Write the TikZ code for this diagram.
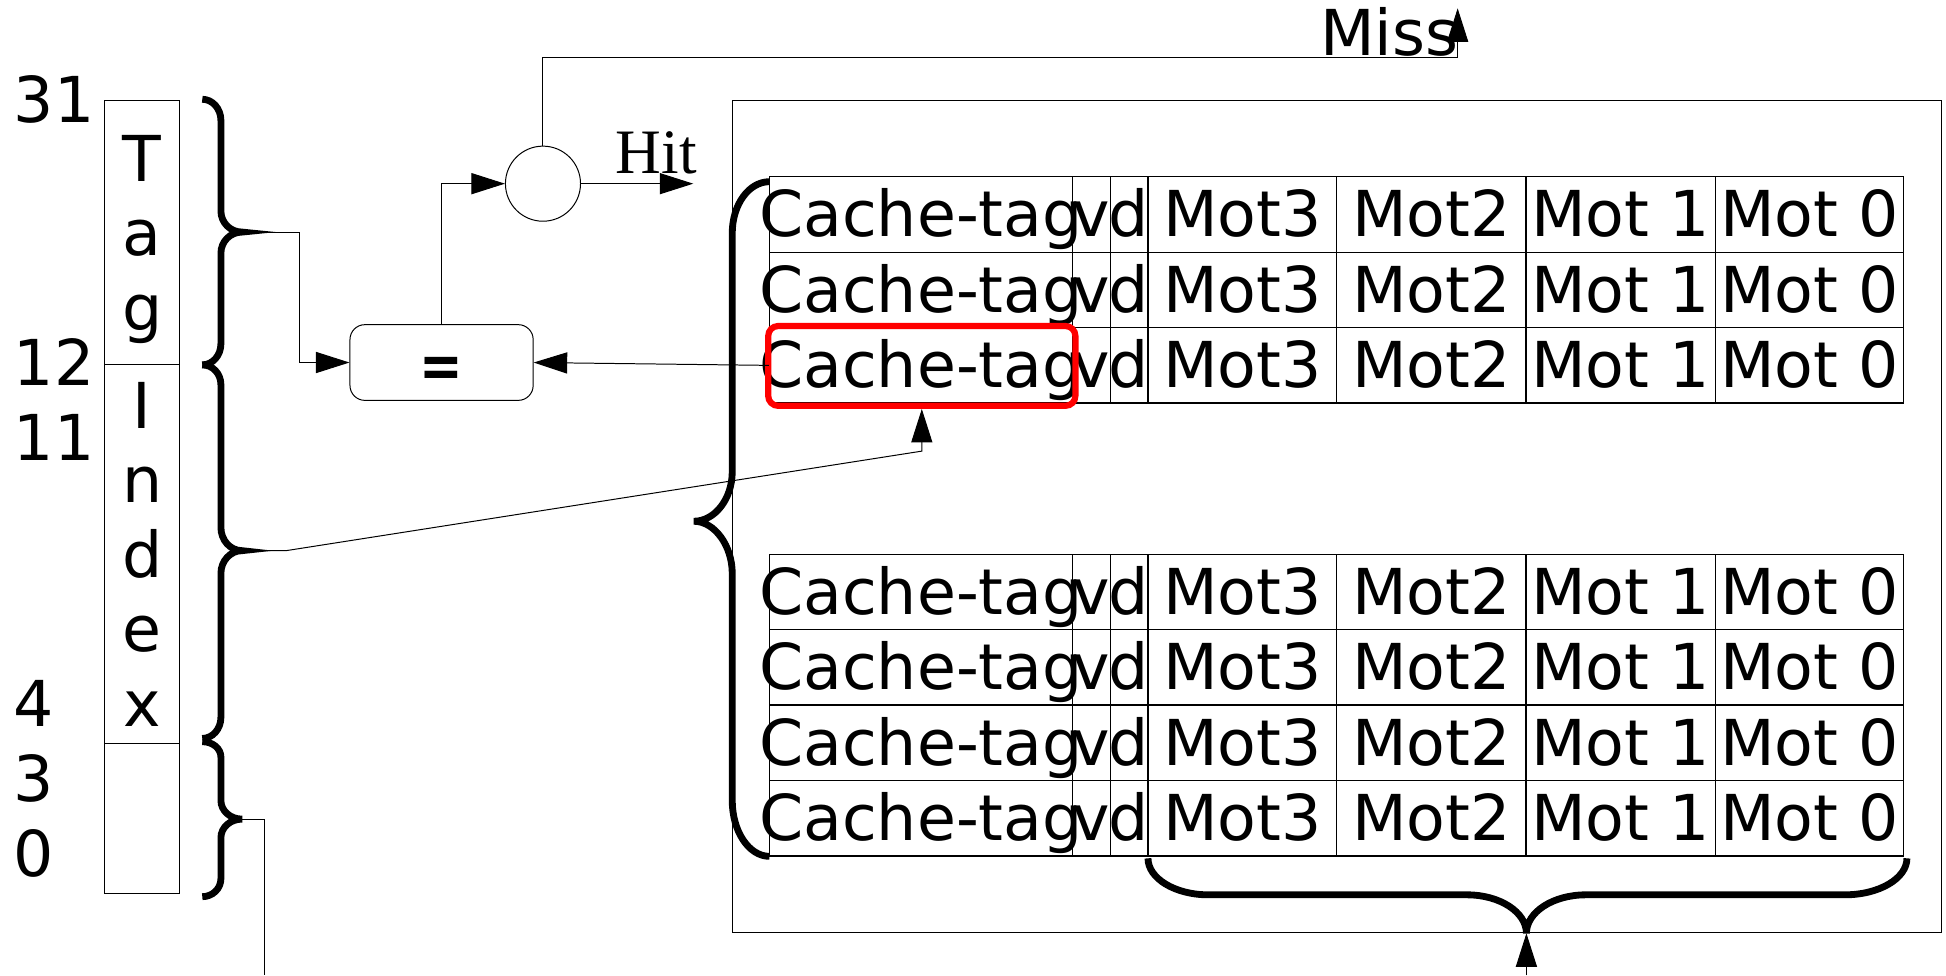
\documentclass[tikz,border=0pt]{standalone}
\usepackage{fontspec}
\setmainfont{DejaVu Sans}
\newfontfamily\hitfont{Liberation Serif}
\usetikzlibrary{arrows.meta,calc}

\tikzset{
  conn/.style={line width=0.8pt},
  arr/.style={-{Triangle[length=27pt,width=17pt]}},
  bracestroke/.style={line width=5.5pt},
  bigtxt/.style={font=\fontsize{51}{60}\selectfont, inner sep=0pt},
  field/.style={draw, line width=0.8pt, inner sep=0pt, minimum width=61pt},
  cell/.style={draw, line width=1pt, inner sep=0pt, minimum height=60.8pt},
  celltxt/.style={bigtxt, anchor=base, yshift=-17.9pt},
  selbox/.style={draw=red, line width=5pt, rounded corners=8pt, inner sep=0pt},
  eqstyle/.style={draw, line width=0.8pt, rounded corners=12pt, inner sep=0pt},
}

\begin{document}
\begin{tikzpicture}[x=1pt,y=-1pt]
\useasboundingbox (0,0) rectangle (1568,786);

% ---- address register ----
\node[field, minimum height=213pt] (tagfield) at (114.5,187.5) {};
\node[field, minimum height=305pt] (indexfield) at (114.5,446.5) {};
\node[field, minimum height=121pt] (offfield) at (114.5,659.5) {};
\foreach \ch [count=\i] in {T,a,g}
  \node[bigtxt, anchor=base] (tag\i) at (114.5,{86+60*\i}) {\ch};
\foreach \ch [count=\i] in {I,n,d,e,x}
  \node[bigtxt, anchor=base] (idx\i) at (114.5,{285+60*\i}) {\ch};

% bit positions
\node[bigtxt, anchor=base west] (b31) at (11,98.7) {31};
\node[bigtxt, anchor=base west] (b12) at (11,310.8) {12};
\node[bigtxt, anchor=base west] (b11) at (11,371) {11};
\node[bigtxt, anchor=base west] (b4) at (11,585.6) {4};
\node[bigtxt, anchor=base west] (b3) at (11,645.5) {3};
\node[bigtxt, anchor=base west] (b0) at (11,706.5) {0};

% braces grouping the fields
\draw[bracestroke] (163,80) .. controls (171.3,80) and (178,87.6) .. (178,97)
  -- (178,170) .. controls (178,179.4) and (185.6,187) .. (195,187)
  .. controls (185.6,187) and (178,194.6) .. (178,204)
  -- (178,277) .. controls (178,286.4) and (171.3,294) .. (163,294);
\draw[bracestroke] (163,294) .. controls (171.3,294) and (178,301) .. (178,310)
  -- (178,425) .. controls (178,435.3) and (185.6,443.7) .. (195,443.7)
  .. controls (185.6,443.7) and (178,452) .. (178,462)
  -- (178,578) .. controls (178,587.4) and (171.3,595) .. (163,595);
\draw[bracestroke] (163,597.6) .. controls (171.3,597.6) and (178,603) .. (178,610)
  -- (178,645) .. controls (178,653.3) and (185.6,660) .. (195,660)
  .. controls (185.6,660) and (178,666.7) .. (178,675)
  -- (178,708) .. controls (178,716) and (171.3,722.5) .. (163,722.5);
\coordinate (tagtip) at (195,187);
\coordinate (idxtip) at (195,443.7);
\coordinate (offtip) at (195,660);
\coordinate (offout) at (213,786);

% ---- comparator and hit logic ----
\node[eqstyle, minimum width=147.6pt, minimum height=61pt] (eqbox) at (355.8,292.1) {};
\node[inner sep=0pt, font=\fontsize{42}{50}\selectfont\bfseries] (eqsign) at (355.6,300.2) {\scalebox{1}[1.2]{=}};
\node[draw, conn, circle, minimum size=60.5pt, inner sep=0pt] (cmp) at (437.5,148) {};
\coordinate (hitout) at (558.6,148);
\coordinate (misscorner) at (1174.5,46.5);
\coordinate (missout) at (1174.5,6.7);
\node[anchor=base west, inner sep=0pt, font=\hitfont\fontsize{51}{60}\selectfont] (hit) at (496,140) {Hit};
\node[bigtxt, anchor=base west] (miss) at (1063.5,45) {Miss};

% ---- cache ----
\node[draw, conn, inner sep=0pt, minimum width=974pt, minimum height=670pt] (cache) at (1077,416) {};
\foreach \r/\yt in {1/142.4,2/203.2,3/264,4/446.5,5/507.3,6/568.1,7/628.9}{
  \foreach \c/\xl/\w/\t in {1/620/244/Cache-tag,2/864/30.5/v,3/894.5/30.5/d,4/925/152/Mot3,5/1077/152.5/Mot2,6/1229.5/152.5/Mot 1,7/1382/152/Mot 0}{
    \node[cell, minimum width=\w pt] (c\r-\c) at ({\xl+\w/2},{\yt+30.4}) {};
    \node[celltxt] (t\r-\c) at (c\r-\c.center) {\t};
  }
}
\node[selbox, minimum width=247.5pt, minimum height=64.3pt] (sel) at (742.75,294.85) {};

% set selection brace
\draw[bracestroke] (620,146.4) .. controls (603.4,146.4) and (590,164.8) .. (590,188)
  -- (590,380) .. controls (590,402) and (576,420) .. (559,420)
  .. controls (576,420) and (590,440) .. (590,462)
  -- (590,645) .. controls (590,669.8) and (603.4,690) .. (620,690);
% word selection brace
\draw[bracestroke] (925,691.6) .. controls (925,707.8) and (946.8,721) .. (973.6,721)
  -- (1182,721) .. controls (1208.4,721) and (1229.9,734.9) .. (1229.9,752)
  .. controls (1229.9,734.9) and (1251.4,721) .. (1277.8,721)
  -- (1486.5,721) .. controls (1514.1,721) and (1536.5,707.8) .. (1536.5,691.6);
\coordinate (wordtip) at (1229.9,752);
\coordinate (wordin) at (1229.9,786);

% ---- connectors ----
\draw[conn,arr] (tagtip) -- ++(46,0) |- (eqbox.west);
\draw[conn,arr] (eqbox.north) |- (cmp.west);
\draw[conn,arr] (cmp.east) -- (hitout);
\draw[conn,arr] (cmp.north) |- (misscorner) -- (missout);
\draw[conn,arr] (c3-1.west) -- (eqbox.east);
\draw[conn,arr] (idxtip) -- ++(35.5,0) -- ([yshift=-34pt]sel.south) -- (sel.south);
\draw[conn] (offtip) -| (offout);
\draw[conn,arr] (wordin) -- (wordtip);
\end{tikzpicture}
\end{document}
